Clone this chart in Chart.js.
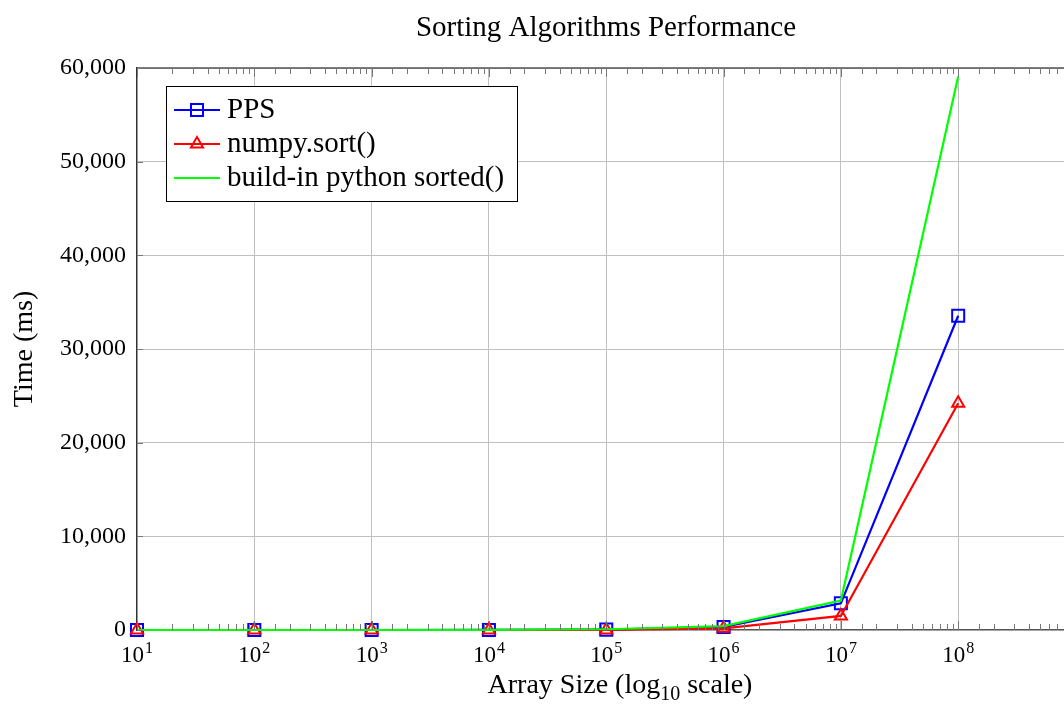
<!DOCTYPE html>
<html>
<head>
<meta charset="utf-8">
<script src="https://cdn.jsdelivr.net/npm/chart.js@4.4.0/dist/chart.umd.min.js"></script>
<style>
  html, body { margin: 0; padding: 0; background: #fff; overflow: hidden; }
  #wrap { position: relative; width: 1086px; height: 709px; }
</style>
</head>
<body>
<div id="wrap"><canvas id="chart" width="1086" height="709"></canvas></div>
<script>
// data
const sizes = [1e1, 1e2, 1e3, 1e4, 1e5, 1e6, 1e7, 1e8];
const ppsTimes = [0, 0, 1, 5, 40, 320, 2850, 33550];
const numpyTimes = [0, 0, 0, 2, 10, 180, 1500, 24200];
const sortedTimes = [0, 0, 1, 10, 80, 420, 3150, 59100];
const xTickExps = [1, 2, 3, 4, 5, 6, 7, 8];
const yTicks = [0, 10000, 20000, 30000, 40000, 50000, 60000];

const SERIF = '"Liberation Serif", "Times New Roman", serif';
const isMajor = v => Math.abs(Math.log10(v) - Math.round(Math.log10(v))) < 1e-9;

const series = [
  { label: 'PPS', data: ppsTimes, color: '#0000ff', style: 'rect', radius: 8.5, order: 3 },
  { label: 'numpy.sort()', data: numpyTimes, color: '#ff0000', style: 'triangle', radius: 7, order: 2 },
  { label: 'build-in python sorted()', data: sortedTimes, color: '#00ff00', style: false, radius: 0, order: 1 }
];

function drawMarker(ctx, style, x, y, r, color) {
  ctx.save();
  ctx.strokeStyle = color;
  ctx.lineWidth = 2;
  ctx.beginPath();
  if (style === 'rect') {
    const s = Math.SQRT1_2 * r;
    ctx.rect(x - s, y - s, 2 * s, 2 * s);
  } else if (style === 'triangle') {
    for (let i = 0; i < 3; i++) {
      const a = i * 2 * Math.PI / 3;
      const px = x + Math.sin(a) * r, py = y - Math.cos(a) * r;
      i === 0 ? ctx.moveTo(px, py) : ctx.lineTo(px, py);
    }
    ctx.closePath();
  }
  ctx.stroke();
  ctx.restore();
}

const decor = {
  id: 'decor',
  afterDraw(chart) {
    const { ctx, chartArea: a, scales: { x, y } } = chart;
    ctx.save();

    // top frame line
    ctx.strokeStyle = '#555';
    ctx.lineWidth = 1.3;
    ctx.beginPath();
    ctx.moveTo(a.left, a.top);
    ctx.lineTo(a.right, a.top);
    ctx.stroke();

    // inward ticks on bottom and top
    ctx.strokeStyle = '#777';
    ctx.lineWidth = 1;
    x.ticks.forEach(t => {
      const px = Math.round(x.getPixelForValue(t.value)) + 0.5;
      const len = isMajor(t.value) ? 9 : 6;
      ctx.beginPath();
      ctx.moveTo(px, a.bottom);
      ctx.lineTo(px, a.bottom - len);
      ctx.moveTo(px, a.top);
      ctx.lineTo(px, a.top + len);
      ctx.stroke();
    });
    yTicks.forEach(v => {
      const py = Math.round(y.getPixelForValue(v)) + 0.5;
      ctx.beginPath();
      ctx.moveTo(a.left, py);
      ctx.lineTo(a.left + 6, py);
      ctx.stroke();
    });

    // x tick labels 10^n
    ctx.fillStyle = '#000';
    ctx.textBaseline = 'alphabetic';
    ctx.textAlign = 'left';
    xTickExps.forEach(e => {
      const px = x.getPixelForValue(Math.pow(10, e));
      ctx.font = '23px ' + SERIF;
      const w1 = ctx.measureText('10').width;
      ctx.font = '16px ' + SERIF;
      const w2 = ctx.measureText(String(e)).width;
      const sx = px - (w1 + w2 + 1) / 2;
      ctx.font = '23px ' + SERIF;
      ctx.fillText('10', sx, 662);
      ctx.font = '16px ' + SERIF;
      ctx.fillText(String(e), sx + w1 + 1, 653);
    });

    // x axis title with subscript
    ctx.font = '28px ' + SERIF;
    const p1 = 'Array Size (log', p2 = '10', p3 = ' scale)';
    const w1 = ctx.measureText(p1).width, w3 = ctx.measureText(p3).width;
    ctx.font = '20px ' + SERIF;
    const w2 = ctx.measureText(p2).width;
    let tx = 620 - (w1 + w2 + w3) / 2;
    ctx.font = '28px ' + SERIF;
    ctx.fillText(p1, tx, 693);
    ctx.font = '20px ' + SERIF;
    ctx.fillText(p2, tx + w1, 700);
    ctx.font = '28px ' + SERIF;
    ctx.fillText(p3, tx + w1 + w2, 693);

    // title
    ctx.textAlign = 'center';
    ctx.font = '29px ' + SERIF;
    ctx.fillText('Sorting Algorithms Performance', 606, 36);

    // legend box
    ctx.fillStyle = '#fff';
    ctx.fillRect(166, 86, 351, 115);
    ctx.strokeStyle = '#000';
    ctx.lineWidth = 1;
    ctx.strokeRect(166.5, 86.5, 351, 115);
    ctx.textAlign = 'left';
    series.forEach((s, i) => {
      const ly = 110 + i * 34;
      ctx.strokeStyle = s.color;
      ctx.lineWidth = 2.2;
      ctx.beginPath();
      ctx.moveTo(174, ly);
      ctx.lineTo(220, ly);
      ctx.stroke();
      if (s.style) drawMarker(ctx, s.style, 197, ly, s.radius, s.color);
      ctx.fillStyle = '#000';
      ctx.font = '29px ' + SERIF;
      ctx.fillText(s.label, 227, ly + 8);
    });

    ctx.restore();
  }
};

new Chart(document.getElementById('chart'), {
  type: 'line',
  data: {
    datasets: series.map(s => ({
      label: s.label,
      data: sizes.map((v, i) => ({ x: v, y: s.data[i] })),
      borderColor: s.color,
      backgroundColor: s.color,
      borderWidth: 2.2,
      pointStyle: s.style,
      pointRadius: s.radius,
      pointBorderWidth: 2,
      pointBackgroundColor: 'rgba(0,0,0,0)',
      pointBorderColor: s.color,
      tension: 0,
      fill: false,
      clip: false,
      order: s.order
    }))
  },
  options: {
    responsive: false,
    animation: false,
    events: [],
    layout: { padding: { top: 68, right: 5, left: 0, bottom: 0 } },
    plugins: { legend: { display: false }, title: { display: false }, tooltip: { enabled: false } },
    scales: {
      x: {
        type: 'logarithmic',
        min: 10,
        max: 1e9,
        afterFit: s => { s.height = 79; },
        ticks: { display: false, autoSkip: false },
        grid: {
          drawTicks: false,
          color: c => (c.tick && isMajor(c.tick.value)) ? '#c0c0c0' : 'rgba(0,0,0,0)',
          lineWidth: 1
        },
        border: { color: '#555', width: 1.3 }
      },
      y: {
        type: 'linear',
        min: 0,
        max: 60000,
        afterFit: s => { s.width = 137; },
        ticks: {
          stepSize: 10000,
          padding: 11,
          color: '#000',
          font: { family: SERIF, size: 24 },
          callback: v => v.toLocaleString('en-US')
        },
        grid: { drawTicks: false, color: '#c0c0c0', lineWidth: 1 },
        border: { color: '#333', width: 1.3 },
        title: {
          display: true,
          text: 'Time (ms)',
          color: '#000',
          font: { family: SERIF, size: 28 },
          padding: { top: 8, bottom: 0 }
        }
      }
    }
  },
  plugins: [decor]
});
</script>
</body>
</html>
